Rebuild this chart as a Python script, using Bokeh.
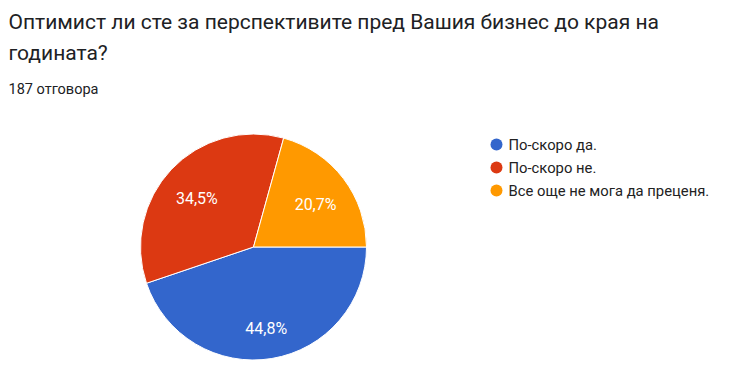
import math
from bokeh.plotting import figure
from bokeh.models import Range1d, ColumnDataSource
from bokeh.embed import file_html
from bokeh.resources import INLINE
from bokeh.core.properties import value

# ---- data ----
title_lines = ["Оптимист ли сте за перспективите пред Вашия бизнес до края на", "годината?"]
subtitle = "187 отговора"
categories = ["По-скоро да.", "По-скоро не.", "Все още не мога да преценя."]
shares = [44.8, 34.5, 20.7]
colors = ["#3366CC", "#DC3912", "#FF9900"]

# ---- layout (page pixel coordinates; Bokeh's page template has no body margin) ----
W, H = 740, 365
FONT = value("Roboto")

def X(px):
    return px

def Y(py):
    return H - py

p = figure(width=W, height=H, x_range=Range1d(0, W), y_range=Range1d(0, H),
           output_backend="svg", toolbar_location=None, min_border=0)
p.axis.visible = False
p.grid.visible = False
p.outline_line_color = None
p.background_fill_color = "white"
p.border_fill_color = "white"

cx, cy, r = X(253), Y(246.5), 113
total = sum(shares)
starts, ends, lx, ly, labels = [], [], [], [], []
cum = 0.0
for s in shares:
    a0 = -2 * math.pi * cum / total
    a1 = -2 * math.pi * (cum + s) / total
    starts.append(a1)
    ends.append(a0)
    mid = (a0 + a1) / 2
    lx.append(cx + 0.69 * r * math.cos(mid))
    ly.append(cy + 0.69 * r * math.sin(mid) - 5)
    labels.append(f"{s:.1f}%".replace(".", ","))
    cum += s

src = ColumnDataSource(dict(start=starts, end=ends, color=colors, lx=lx, ly=ly, label=labels))
p.wedge(x=cx, y=cy, radius=r, radius_units="screen", start_angle="start", end_angle="end",
        direction="anticlock", fill_color="color", line_color="white", line_width=1, source=src)
p.text(x="lx", y="ly", text="label", source=src, text_align="center", text_baseline="middle",
       text_color="white", text_font=FONT, text_font_size="16px")

# title
p.text(x=[X(8), X(8)], y=[Y(21), Y(52)], text=title_lines, text_align="left",
       text_baseline="alphabetic", text_color="#202124", text_font=FONT, text_font_size="21px")
p.text(x=[X(8)], y=[Y(89)], text=[subtitle], text_align="left", text_baseline="alphabetic",
       text_color="#202124", text_font=FONT, text_font_size="14.5px")

# legend
leg_y = [Y(144), Y(167), Y(190)]
p.scatter(x=[X(496)] * 3, y=leg_y, marker="circle", size=12, fill_color=colors, line_color=None)
p.text(x=[X(508)] * 3, y=leg_y, text=categories, text_align="left", text_baseline="middle",
       text_color="#222222", text_font=FONT, text_font_size="14.8px")

open("out.html", "w").write(file_html(p, INLINE))
